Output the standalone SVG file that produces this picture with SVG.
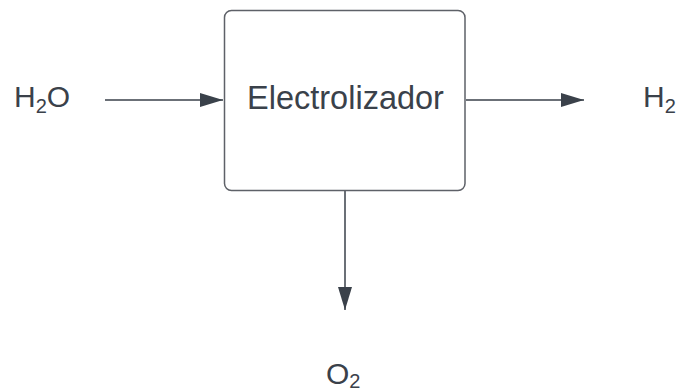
<svg xmlns="http://www.w3.org/2000/svg" width="681" height="392" viewBox="0 0 681 392">
<style>
text{font-family:"Liberation Sans",Arial,sans-serif;fill:#3a414a;font-size:30px}
.sub{font-size:20px}
.ln{stroke:#3a414a;stroke-width:1.5;fill:none}
</style>
<defs>
<marker id="ah" markerWidth="23" markerHeight="14" refX="23" refY="7" orient="auto" markerUnits="userSpaceOnUse">
<path d="M0,0 L23,7 L0,14 Z" fill="#3a414a"/>
</marker>
</defs>
<rect width="681" height="392" fill="#fff"/>
<g id="connectors">
<path class="ln" d="M105,100 H223" marker-end="url(#ah)"/>
<path class="ln" d="M466,100 H584" marker-end="url(#ah)"/>
<path class="ln" d="M345,191 V310" marker-end="url(#ah)"/>
</g>
<g id="electrolizador">
<rect x="224.5" y="10.5" width="240.5" height="180" rx="7" fill="#fff" stroke="#5e6168" stroke-width="1.5"/>
<text x="345.5" y="109" text-anchor="middle" style="font-size:32.5px">Electrolizador</text>
</g>
<g id="h2o"><text x="14" y="107">H<tspan class="sub" dy="6">2</tspan><tspan dy="-6">O</tspan></text></g>
<g id="h2"><text x="643" y="107">H<tspan class="sub" dy="6">2</tspan></text></g>
<g id="o2"><text x="326" y="384">O<tspan class="sub" dy="4">2</tspan></text></g>
</svg>
